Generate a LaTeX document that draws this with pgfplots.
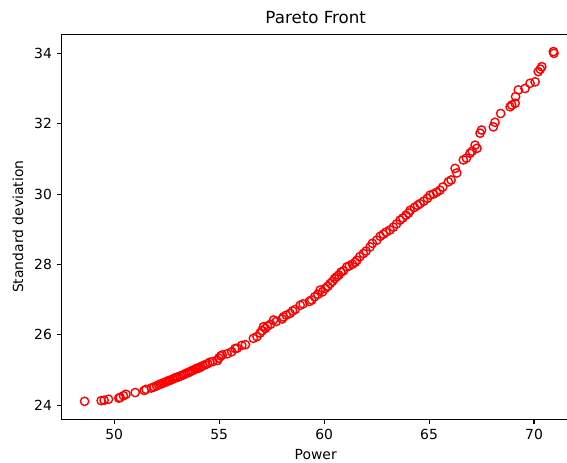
\documentclass[border=0pt]{standalone}
\usepackage{pgfplots}
\pgfplotsset{compat=1.18}
\usepackage{fontspec}
\setmainfont{DejaVu Sans}

% Pareto front samples (power, standard deviation)
\pgfplotstableread{
x y
48.59 24.11
49.38 24.13
49.52 24.14
49.73 24.17
50.22 24.20
50.28 24.22
50.44 24.27
50.56 24.31
51.00 24.36
51.43 24.42
51.52 24.45
51.78 24.49
51.90 24.52
52.02 24.55
52.12 24.58
52.20 24.60
52.30 24.62
52.41 24.65
52.50 24.67
52.60 24.70
52.68 24.71
52.79 24.74
52.88 24.77
52.97 24.79
53.05 24.80
53.15 24.83
53.24 24.85
53.32 24.87
53.40 24.90
53.50 24.92
53.58 24.94
53.66 24.97
53.75 24.99
53.85 25.02
53.94 25.05
54.05 25.06
54.12 25.09
54.22 25.12
54.33 25.15
54.45 25.18
54.55 25.22
54.70 25.24
54.92 25.27
54.98 25.34
55.08 25.40
55.15 25.43
55.38 25.46
55.60 25.52
55.76 25.61
55.85 25.62
56.08 25.70
56.25 25.72
56.63 25.90
56.80 25.95
56.95 26.05
57.05 26.12
57.11 26.23
57.20 26.18
57.30 26.25
57.45 26.30
57.59 26.42
57.72 26.38
58.00 26.45
58.06 26.51
58.20 26.56
58.38 26.61
58.50 26.68
58.62 26.72
58.86 26.84
59.00 26.88
59.30 26.95
59.41 26.99
59.55 27.08
59.70 27.15
59.81 27.27
59.92 27.22
60.05 27.32
60.18 27.38
60.29 27.46
60.40 27.52
60.50 27.60
60.60 27.65
60.70 27.70
60.80 27.78
60.92 27.82
61.08 27.93
61.20 27.96
61.35 28.01
61.48 28.06
61.56 28.12
61.70 28.22
61.87 28.31
62.00 28.38
62.19 28.50
62.30 28.60
62.51 28.69
62.67 28.80
62.82 28.86
62.95 28.92
63.14 28.98
63.30 29.06
63.45 29.15
63.62 29.26
63.75 29.32
63.90 29.40
64.02 29.46
64.10 29.54
64.30 29.62
64.45 29.68
64.57 29.73
64.75 29.80
64.92 29.88
65.05 29.97
65.20 30.00
65.35 30.05
65.52 30.11
65.65 30.20
65.92 30.35
66.05 30.40
66.24 30.73
66.32 30.60
66.63 30.97
66.78 31.02
66.95 31.16
67.05 31.22
67.19 31.39
67.28 31.30
67.43 31.73
67.50 31.82
68.06 31.91
68.14 32.04
68.41 32.29
68.86 32.48
68.94 32.53
69.10 32.58
69.12 32.77
69.25 32.96
69.57 33.00
69.81 33.15
70.05 33.19
70.20 33.48
70.30 33.55
70.37 33.62
70.92 34.05
70.95 34.00
}\pareto

\begin{document}
\fontsize{10}{12}\selectfont
\begin{tikzpicture}
\begin{axis}[
  scale only axis,
  width=365.56pt, height=277pt,
  xmin=47.5, xmax=71.7, ymin=23.6, ymax=34.54,
  xtick={50,55,60,65,70}, ytick={24,26,...,34},
  xtick pos=bottom, ytick pos=left,
  tick align=outside, major tick length=3.5pt,
  tick style={black, line width=0.8pt},
  axis line style={line width=0.8pt},
  /pgf/number format/assume math mode=true,
  ticklabel style={font=\fontsize{10}{12}\selectfont},
  title={Pareto Front},
  title style={font=\fontsize{12}{14}\selectfont, at={(0.5,1)}, anchor=south, yshift=-2pt},
  xlabel={Power}, ylabel={Standard deviation},
  label style={font=\fontsize{10}{12}\selectfont},
  xlabel style={yshift=0pt},
  ylabel style={yshift=1pt},
]
\addplot[only marks, mark=o, mark size=3pt, draw=red, line width=1pt] table[x=x, y=y] {\pareto};
\end{axis}
\pgfresetboundingbox
\path[use as bounding box] ([xshift=-44.4pt, yshift=-31pt]current axis.south west) rectangle ([xshift=-1.96pt, yshift=24.7pt]current axis.north east);
\end{tikzpicture}
\end{document}
